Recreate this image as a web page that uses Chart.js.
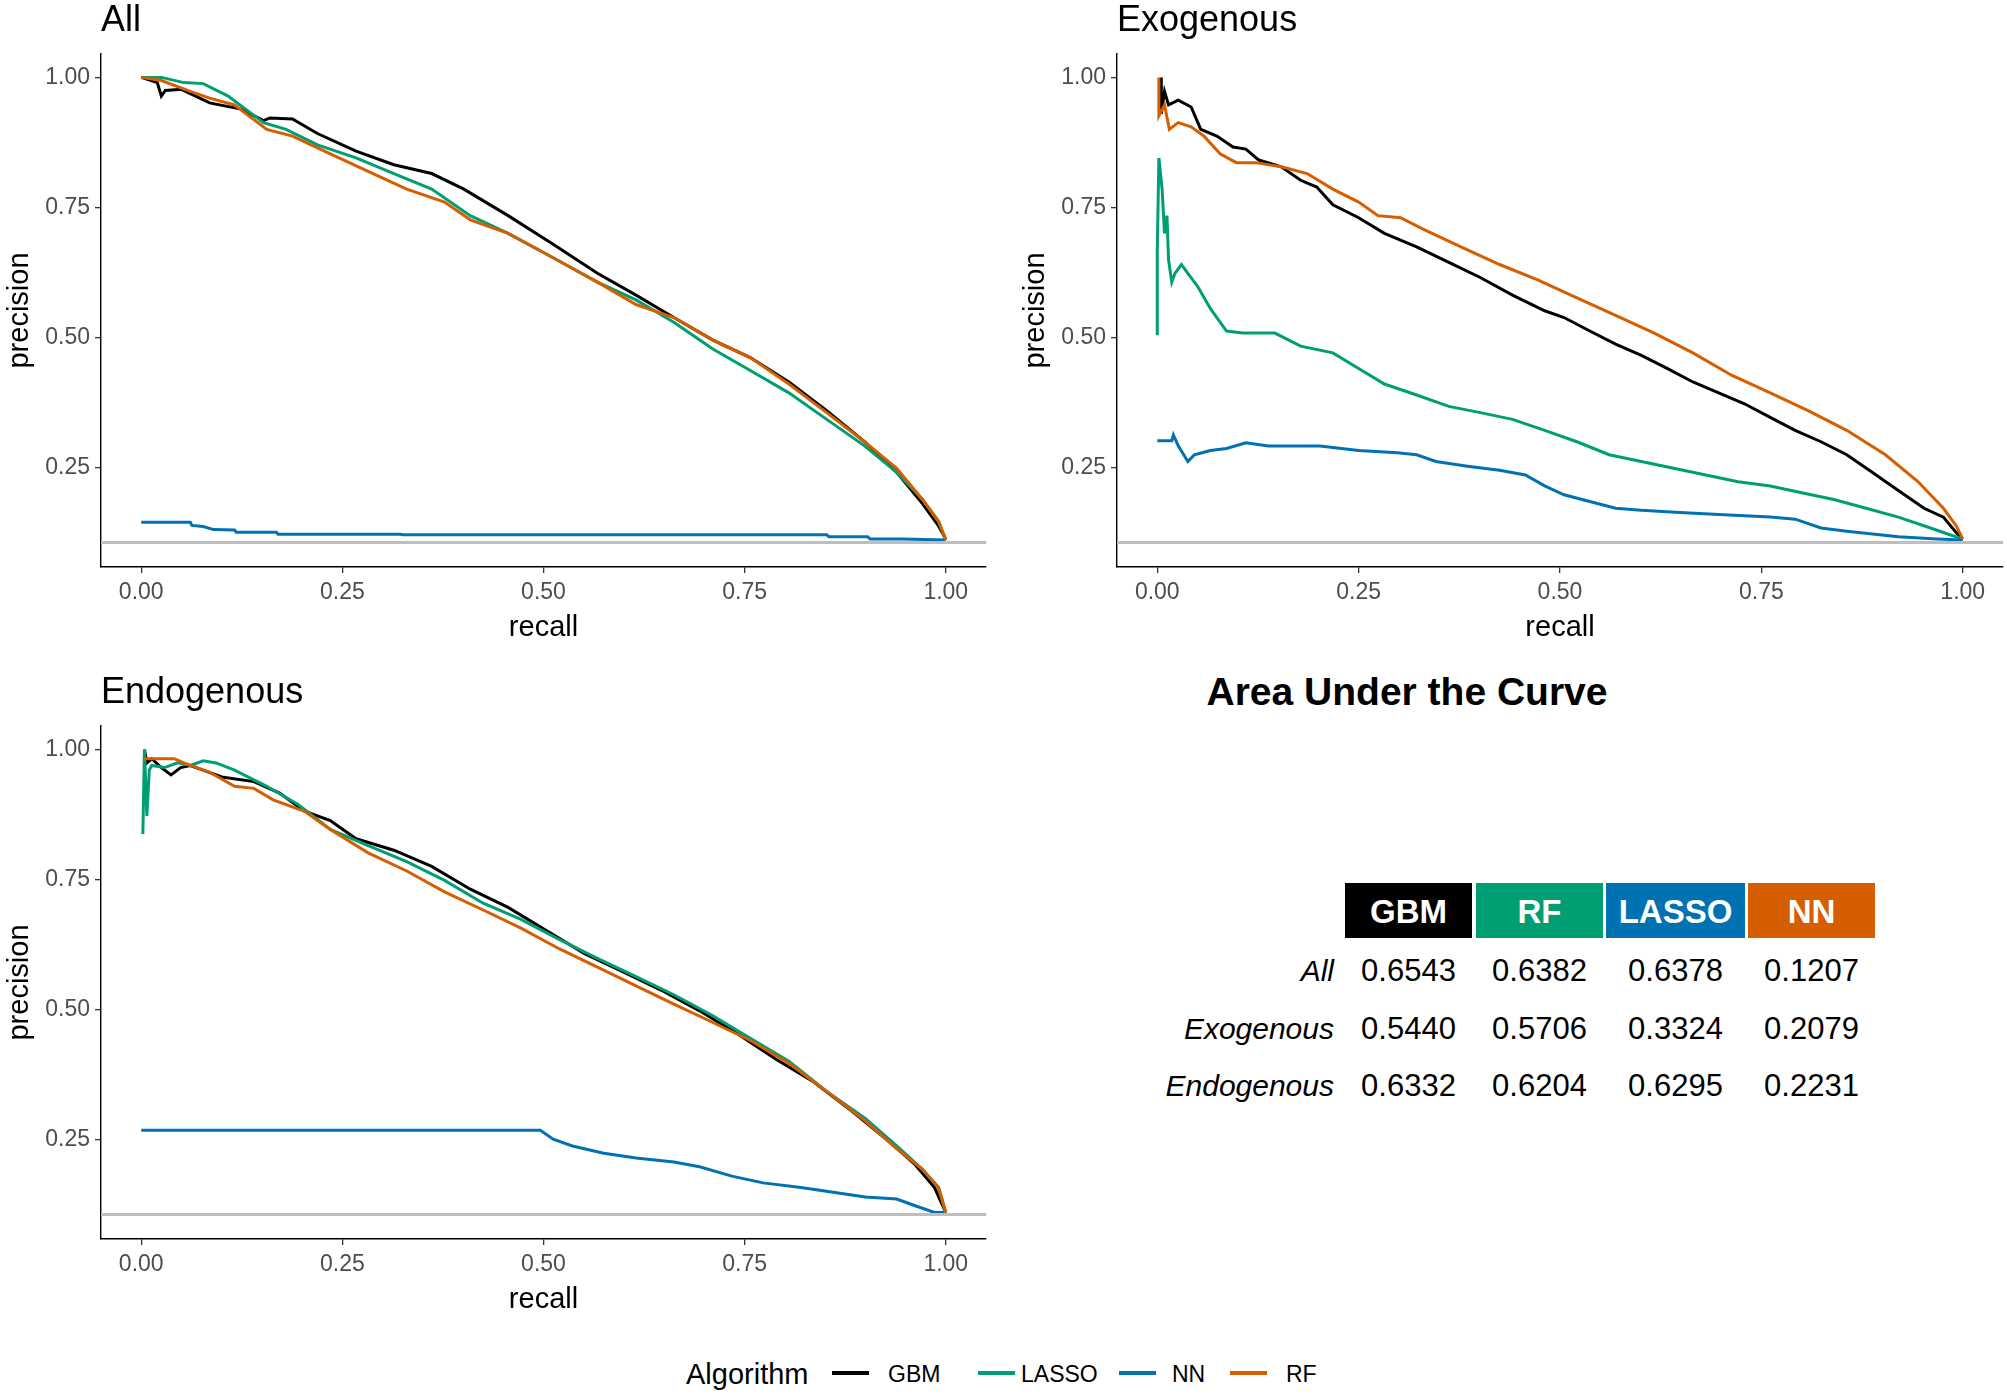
<!DOCTYPE html>
<html>
<head>
<meta charset="utf-8">
<script src="https://cdn.jsdelivr.net/npm/chart.js@4.4.0/dist/chart.umd.min.js"></script>
<style>
  body { margin: 0; background: #fff; font-family: "Liberation Sans", Arial, sans-serif; }
  #page { position: relative; width: 2007px; height: 1398px; overflow: hidden; background: #fff; }
  canvas { position: absolute; }
  .ptitle { position: absolute; font-size: 36px; line-height: 36px; color: #000; }
  .abs { position: absolute; white-space: nowrap; }
</style>
</head>
<body>
<div id="page">
  <canvas id="cAll" width="1003" height="660" style="left:0;top:0;width:1003px;height:660px"></canvas>
  <canvas id="cExo" width="1004" height="660" style="left:1003px;top:0;width:1004px;height:660px"></canvas>
  <canvas id="cEndo" width="1003" height="660" style="left:0;top:672px;width:1003px;height:660px"></canvas>
  <div class="ptitle" style="left:101px;top:1px">All</div>
  <div class="ptitle" style="left:1117px;top:1px">Exogenous</div>
  <div class="ptitle" style="left:101px;top:673px">Endogenous</div>
  <div id="auc"></div>
  <div id="legend"></div>
</div>
<script>
// algoritmos y colores (orden de la leyenda)
const algorithms = ['GBM', 'LASSO', 'NN', 'RF'];
const algoColors = ['#000000', '#009E73', '#0072B2', '#D55E00'];
const xTicks = [0, 0.25, 0.5, 0.75, 1];
const yTicks = [0.25, 0.5, 0.75, 1];
const baseline = 0.105;

// Panel "All": pares [recall, precision]
const allGBM = [[0,1],[0.02,0.99],[0.025,0.964],[0.03,0.975],[0.05,0.977],[0.085,0.951],[0.124,0.939],[0.152,0.917],[0.16,0.922],[0.188,0.92],[0.219,0.892],[0.267,0.858],[0.314,0.832],[0.361,0.815],[0.401,0.785],[0.456,0.734],[0.512,0.679],[0.567,0.623],[0.615,0.581],[0.662,0.538],[0.71,0.495],[0.757,0.461],[0.805,0.414],[0.852,0.359],[0.899,0.299],[0.939,0.24],[0.971,0.18],[0.991,0.137],[1,0.112]];
const allLASSO = [[0,1],[0.025,1],[0.053,0.99],[0.077,0.988],[0.108,0.964],[0.152,0.913],[0.18,0.9],[0.219,0.87],[0.267,0.845],[0.314,0.815],[0.361,0.785],[0.409,0.734],[0.456,0.7],[0.512,0.653],[0.567,0.606],[0.615,0.572],[0.662,0.529],[0.71,0.478],[0.757,0.436],[0.805,0.393],[0.852,0.342],[0.899,0.291],[0.939,0.24],[0.971,0.188],[0.991,0.146],[1,0.11]];
const allNN = [[0,0.144],[0.061,0.144],[0.063,0.138],[0.077,0.136],[0.09,0.13],[0.116,0.129],[0.118,0.125],[0.168,0.125],[0.17,0.121],[0.322,0.121],[0.325,0.12],[0.852,0.12],[0.855,0.116],[0.903,0.116],[0.906,0.112],[0.946,0.112],[1,0.11]];
const allRF = [[0,1],[0.025,0.994],[0.061,0.973],[0.085,0.96],[0.116,0.947],[0.156,0.9],[0.188,0.887],[0.235,0.853],[0.282,0.819],[0.33,0.785],[0.377,0.76],[0.409,0.726],[0.456,0.7],[0.512,0.653],[0.567,0.606],[0.615,0.563],[0.662,0.538],[0.71,0.495],[0.757,0.461],[0.805,0.41],[0.852,0.355],[0.899,0.299],[0.939,0.248],[0.971,0.188],[0.991,0.146],[1,0.11]];

// Panel "Exogenous"
const exoGBM = [[0.005,1],[0.005,0.93],[0.009,0.973],[0.014,0.947],[0.026,0.956],[0.042,0.943],[0.054,0.9],[0.074,0.887],[0.094,0.866],[0.11,0.862],[0.126,0.841],[0.154,0.828],[0.178,0.802],[0.198,0.789],[0.218,0.755],[0.25,0.73],[0.282,0.7],[0.322,0.674],[0.362,0.644],[0.401,0.615],[0.441,0.581],[0.481,0.551],[0.505,0.538],[0.537,0.512],[0.569,0.487],[0.601,0.465],[0.633,0.44],[0.665,0.414],[0.697,0.393],[0.729,0.372],[0.761,0.346],[0.792,0.321],[0.824,0.299],[0.856,0.274],[0.888,0.24],[0.92,0.205],[0.952,0.171],[0.976,0.154],[0.992,0.124],[1,0.112]];
const exoLASSO = [[0,0.504],[0,0.666],[0.002,0.845],[0.006,0.785],[0.009,0.7],[0.012,0.734],[0.014,0.649],[0.018,0.606],[0.022,0.623],[0.03,0.64],[0.038,0.623],[0.05,0.598],[0.066,0.555],[0.086,0.512],[0.106,0.508],[0.146,0.508],[0.178,0.483],[0.218,0.47],[0.25,0.44],[0.282,0.41],[0.322,0.389],[0.362,0.367],[0.401,0.355],[0.441,0.342],[0.481,0.321],[0.521,0.299],[0.561,0.274],[0.601,0.261],[0.641,0.248],[0.681,0.235],[0.721,0.222],[0.761,0.214],[0.8,0.201],[0.84,0.188],[0.88,0.171],[0.92,0.154],[0.96,0.133],[0.984,0.12],[1,0.112]];
const exoNN = [[0,0.301],[0.018,0.301],[0.02,0.312],[0.026,0.291],[0.038,0.261],[0.046,0.274],[0.066,0.282],[0.086,0.286],[0.11,0.297],[0.138,0.291],[0.202,0.291],[0.25,0.282],[0.298,0.278],[0.322,0.274],[0.346,0.261],[0.385,0.252],[0.425,0.244],[0.457,0.235],[0.481,0.214],[0.505,0.197],[0.537,0.184],[0.569,0.171],[0.601,0.167],[0.649,0.163],[0.697,0.159],[0.761,0.154],[0.792,0.15],[0.824,0.133],[0.856,0.127],[0.92,0.116],[0.968,0.112],[1,0.11]];
const exoRF = [[0.002,1],[0.002,0.926],[0.009,0.947],[0.015,0.9],[0.026,0.913],[0.042,0.905],[0.058,0.887],[0.078,0.853],[0.098,0.836],[0.122,0.836],[0.154,0.828],[0.186,0.815],[0.218,0.785],[0.25,0.76],[0.274,0.734],[0.302,0.73],[0.33,0.708],[0.377,0.674],[0.425,0.64],[0.473,0.61],[0.521,0.576],[0.569,0.542],[0.617,0.508],[0.665,0.47],[0.713,0.427],[0.761,0.393],[0.808,0.359],[0.856,0.321],[0.904,0.274],[0.944,0.223],[0.976,0.171],[0.992,0.137],[1,0.112]];

// Panel "Endogenous"
const endoGBM = [[0.004,1],[0.007,0.974],[0.013,0.982],[0.025,0.965],[0.037,0.951],[0.049,0.965],[0.061,0.969],[0.077,0.96],[0.1,0.947],[0.14,0.938],[0.172,0.916],[0.203,0.881],[0.235,0.863],[0.267,0.828],[0.314,0.806],[0.361,0.775],[0.409,0.731],[0.456,0.696],[0.504,0.651],[0.551,0.607],[0.599,0.572],[0.646,0.537],[0.694,0.497],[0.741,0.453],[0.789,0.404],[0.836,0.36],[0.884,0.303],[0.93,0.245],[0.962,0.201],[0.986,0.157],[1,0.109]];
const endoLASSO = [[0.002,0.837],[0.004,1],[0.007,0.872],[0.01,0.96],[0.013,0.969],[0.029,0.965],[0.045,0.974],[0.061,0.969],[0.077,0.978],[0.093,0.974],[0.116,0.96],[0.156,0.929],[0.195,0.894],[0.235,0.846],[0.282,0.815],[0.33,0.784],[0.377,0.748],[0.425,0.704],[0.472,0.673],[0.52,0.634],[0.567,0.598],[0.615,0.563],[0.662,0.528],[0.71,0.488],[0.757,0.444],[0.805,0.4],[0.852,0.342],[0.9,0.29],[0.939,0.237],[0.971,0.192],[0.991,0.157],[1,0.109]];
const endoNN = [[0,0.267],[0.496,0.267],[0.512,0.25],[0.536,0.237],[0.575,0.223],[0.615,0.214],[0.662,0.206],[0.694,0.197],[0.734,0.179],[0.773,0.166],[0.82,0.157],[0.86,0.148],[0.9,0.139],[0.939,0.135],[0.962,0.122],[0.986,0.109],[1,0.109]];
const endoRF = [[0.002,0.982],[0.041,0.982],[0.053,0.974],[0.085,0.956],[0.116,0.929],[0.14,0.925],[0.164,0.903],[0.203,0.881],[0.235,0.846],[0.282,0.801],[0.33,0.766],[0.377,0.726],[0.425,0.691],[0.472,0.656],[0.52,0.616],[0.567,0.581],[0.615,0.545],[0.662,0.51],[0.71,0.475],[0.757,0.44],[0.805,0.396],[0.852,0.342],[0.9,0.285],[0.939,0.232],[0.971,0.192],[0.991,0.157],[1,0.109]];

// Tabla AUC
const aucCols = ['GBM', 'RF', 'LASSO', 'NN'];
const aucColColors = ['#000000', '#009E73', '#0072B2', '#D55E00'];
const aucRows = ['All', 'Exogenous', 'Endogenous'];
const aucAll = [0.6543, 0.6382, 0.6378, 0.1207];
const aucExo = [0.5440, 0.5706, 0.3324, 0.2079];
const aucEndo = [0.6332, 0.6204, 0.6295, 0.2231];

const FONT = '"Liberation Sans", Arial, sans-serif';

function makePanel(id, series, yWidth, padRight) {
  const datasets = series.map((s, i) => ({
    label: algorithms[i],
    data: s.map(p => ({x: p[0], y: p[1]})),
    borderColor: algoColors[i],
    borderWidth: 3,
    pointRadius: 0,
    tension: 0,
    fill: false,
    order: 10 - i
  }));
  // linea de referencia gris
  datasets.push({
    label: 'base',
    data: [{x: -0.05, y: baseline}, {x: 1.05, y: baseline}],
    borderColor: '#BEBEBE',
    borderWidth: 3,
    pointRadius: 0,
    order: 0
  });

  return new Chart(document.getElementById(id), {
    type: 'line',
    data: {datasets: datasets},
    options: {
      responsive: false,
      animation: false,
      layout: {padding: {left: 0, top: 54, right: padRight, bottom: 0}},
      plugins: {legend: {display: false}, tooltip: {enabled: false}},
      scales: {
        x: {
          type: 'linear', min: -0.05, max: 1.05,
          afterBuildTicks: sc => { sc.ticks = xTicks.map(v => ({value: v})); },
          afterFit: sc => { sc.height = 93; },
          ticks: {color: '#4D4D4D', font: {family: FONT, size: 23}, padding: 6,
                  callback: v => v.toFixed(2)},
          grid: {drawOnChartArea: false, drawTicks: true, tickLength: 6, color: '#333333', lineWidth: 1.3},
          border: {display: true, color: '#000000', width: 1.4},
          title: {display: true, text: 'recall', color: '#000', font: {family: FONT, size: 29},
                  padding: {top: 0, bottom: 15}}
        },
        y: {
          type: 'linear', min: 0.058, max: 1.045,
          afterBuildTicks: sc => { sc.ticks = yTicks.map(v => ({value: v})); },
          afterFit: sc => { sc.width = yWidth; },
          ticks: {color: '#4D4D4D', font: {family: FONT, size: 23}, padding: 5,
                  callback: v => v.toFixed(2)},
          grid: {drawOnChartArea: false, drawTicks: true, tickLength: 6, color: '#333333', lineWidth: 1.3},
          border: {display: true, color: '#000000', width: 1.4},
          title: {display: true, text: 'precision', color: '#000', font: {family: FONT, size: 29},
                  padding: {top: 3 + (yWidth - 101), bottom: 0}}
        }
      }
    }
  });
}

makePanel('cAll', [allGBM, allLASSO, allNN, allRF], 101, 17);
makePanel('cExo', [exoGBM, exoLASSO, exoNN, exoRF], 114, 4);
makePanel('cEndo', [endoGBM, endoLASSO, endoNN, endoRF], 101, 17);

// Tabla "Area Under the Curve"
const auc = document.getElementById('auc');
function addText(parent, txt, css) {
  const d = document.createElement('div');
  d.className = 'abs';
  d.textContent = txt;
  d.style.cssText += css;
  parent.appendChild(d);
  return d;
}
addText(auc, 'Area Under the Curve',
  'left:1157px;width:500px;text-align:center;top:670px;font-size:39px;font-weight:bold;color:#000;');
const colLeft = [1345, 1476, 1606, 1748];
const colWidth = [127, 127, 139, 127];
aucCols.forEach((c, i) => {
  addText(auc, c, `left:${colLeft[i]}px;top:883px;width:${colWidth[i]}px;height:55px;line-height:57px;` +
    `text-align:center;background:${aucColColors[i]};color:#fff;font-weight:bold;font-size:33px;`);
});
const rowTop = [951, 1009, 1066];
[aucAll, aucExo, aucEndo].forEach((vals, r) => {
  addText(auc, aucRows[r], `left:1034px;width:300px;text-align:right;top:${rowTop[r]}px;` +
    `font-size:30px;font-style:italic;color:#000;line-height:40px;`);
  vals.forEach((v, i) => {
    addText(auc, v.toFixed(4), `left:${colLeft[i]}px;width:${colWidth[i]}px;text-align:center;` +
      `top:${rowTop[r]}px;font-size:31px;color:#000;line-height:40px;`);
  });
});

// Leyenda comun
const leg = document.getElementById('legend');
addText(leg, 'Algorithm', 'left:686px;top:1356px;font-size:29px;line-height:36px;color:#000;');
const keyLeft = [832, 978, 1119, 1230];
const labLeft = [888, 1021, 1172, 1286];
algorithms.forEach((a, i) => {
  const k = document.createElement('div');
  k.style.cssText = `position:absolute;left:${keyLeft[i]}px;top:1371px;width:37px;height:4px;background:${algoColors[i]};`;
  leg.appendChild(k);
  addText(leg, a, `left:${labLeft[i]}px;top:1359px;font-size:23px;line-height:30px;color:#000;`);
});
</script>
</body>
</html>
